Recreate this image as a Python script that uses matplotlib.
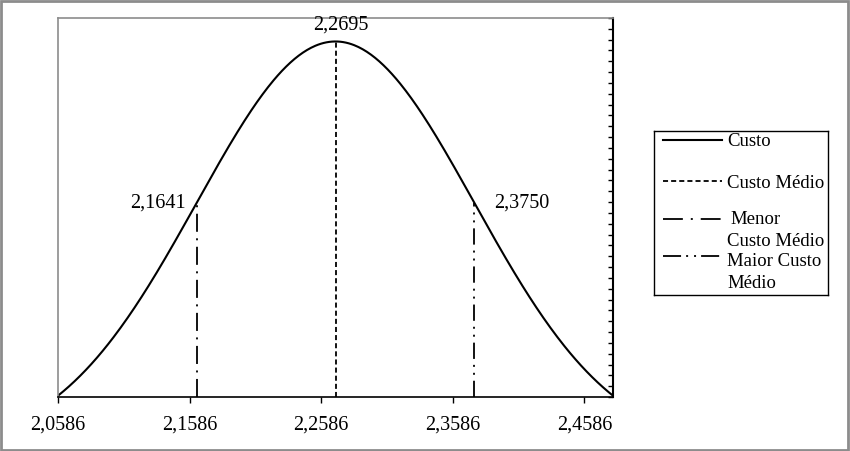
import numpy as np
import matplotlib
matplotlib.use("Agg")
import matplotlib.pyplot as plt
from matplotlib.patches import Rectangle

# ---- data ----
mean_cost = 2.2695
low_cost = 2.1641
high_cost = 2.3750
sigma = (high_cost - low_cost) / 2.0
x_tick_values = [2.0586, 2.1586, 2.2586, 2.3586, 2.4586]
x_tick_labels = ["2,0586", "2,1586", "2,2586", "2,3586", "2,4586"]
marker_labels = ["2,1641", "2,2695", "2,3750"]
legend_labels = [["Custo"], ["Custo Médio"], ["Menor", "Custo Médio"], ["Maior Custo", "Médio"]]
y_min, y_max, y_step = 0.5, 4.0, 0.1

def pdf(x):
    return np.exp(-0.5 * ((x - mean_cost) / sigma) ** 2) / (sigma * np.sqrt(2 * np.pi))

x_lo = mean_cost - 2 * sigma
x_hi = mean_cost + 2 * sigma
xs = np.linspace(x_lo, x_hi, 400)
ys = pdf(xs)

plt.rcParams['font.family'] = ['Liberation Serif', 'DejaVu Serif']
FS = 14.5
FS_LEG = 13.5

W, H = 850, 451
fig = plt.figure(figsize=(W / 100, H / 100), dpi=100)
fig.patch.set_facecolor("white")

def fx(px):
    return px / W

def fy(py):
    return 1 - py / H

ax = fig.add_axes([fx(58), fy(397), fx(613) - fx(58), fy(18) - fy(397)])
ax.set_xlim(x_lo, x_hi)
ax.set_ylim(y_min, y_max)

lw_curve = 1.5
lw_v = 1.3
dash_mean = (2.8, 1.7)
dash_low = (10.0, 3.6, 1.1, 3.6)
dash_high = (9.0, 3.3, 1.1, 3.3, 1.1, 3.3)
leg_dash_low = (11.0, 4.4, 1.1, 4.4)
leg_dash_high = (10.0, 2.8, 1.1, 3.3, 1.1, 2.8)

ax.plot(xs, ys, color="black", lw=lw_curve)
ax.plot([mean_cost, mean_cost], [y_min, pdf(mean_cost)], color="black", lw=lw_v,
        linestyle=(0, dash_mean))
ax.plot([low_cost, low_cost], [y_min, pdf(low_cost)], color="black", lw=lw_v,
        linestyle=(0, dash_low))
ax.plot([high_cost, high_cost], [y_min, pdf(high_cost)], color="black", lw=lw_v,
        linestyle=(0, dash_high))

# annotations
ax.annotate(marker_labels[1], (mean_cost, pdf(mean_cost)), xytext=(4, 12),
            textcoords="offset points", ha="center", va="center", fontsize=FS)
ax.annotate(marker_labels[0], (low_cost, pdf(low_cost)), xytext=(-8, 0),
            textcoords="offset points", ha="right", va="center", fontsize=FS)
ax.annotate(marker_labels[2], (high_cost, pdf(high_cost)), xytext=(14, 0),
            textcoords="offset points", ha="left", va="center", fontsize=FS)

# axes styling
ax.set_xticks(x_tick_values)
ax.set_xticklabels(x_tick_labels, fontsize=FS)
ax.tick_params(axis="x", direction="out", length=4.5, width=1, color="black", pad=9)
ax.yaxis.tick_right()
ax.set_yticks(np.arange(y_min, y_max + 1e-9, y_step))
ax.set_yticklabels([])
ax.tick_params(axis="y", direction="in", length=3.6, width=1, color="black")
for s in ["top", "left"]:
    ax.spines[s].set_color("#8c8c8c")
    ax.spines[s].set_linewidth(1.2)
ax.spines["bottom"].set_color("black")
ax.spines["bottom"].set_linewidth(1.2)
ax.spines["right"].set_color("black")
ax.spines["right"].set_linewidth(1.5)

# legend (manual, figure pixel layout)
lax = fig.add_axes([fx(654), fy(295), fx(828) - fx(654), fy(131) - fy(295)])
lax.set_xlim(654, 828)
lax.set_ylim(295, 131)
lax.set_xticks([])
lax.set_yticks([])
for s in lax.spines.values():
    s.set_color("black")
    s.set_linewidth(1.0)
styles = ["-", (0, dash_mean), (0, leg_dash_low), (0, leg_dash_high)]
line_ys = [140, 181, 219, 256]
text_ys = [[142], [184], [220, 242], [262, 284]]
text_xs = [727, 727, 730, 727]
for labs, st, ly, tys, tx in zip(legend_labels, styles, line_ys, text_ys, text_xs):
    lax.plot([663, 722], [ly, ly], color="black", lw=lw_curve if st == "-" else lw_v,
             linestyle=st)
    for i, (lab, ty) in enumerate(zip(labs, tys)):
        lax.text(tx if i == 0 else 727, ty, lab, fontsize=FS_LEG, ha="left", va="center")

# outer border
fig.add_artist(Rectangle((0.001, 0.002), 0.997, 0.996, transform=fig.transFigure,
                         fill=False, edgecolor="#8c8c8c", lw=2))

fig.savefig("out.png", dpi=100)
